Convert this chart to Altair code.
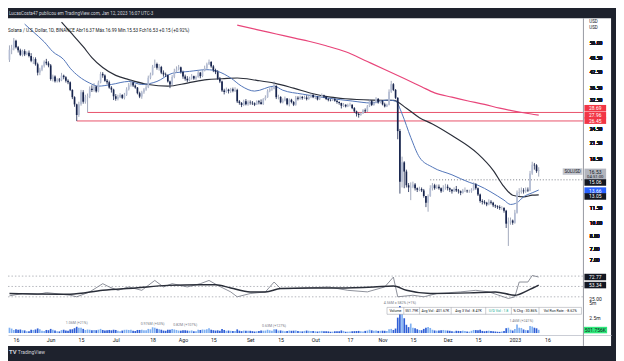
import altair as alt
import pandas as pd

FONT = "Roboto"
HEADER = "LucasCosta47 publicou em TradingView.com, Jan 12, 2023 16:07 UTC-3"
LEGEND = "Solana / U.S. Dollar, 1D, BINANCE  Abr16.37  Máx.16.99  Mín.15.53  Fch16.53  +0.15 (+0.92%)"

# ---------------- daily candles (day index: 0 = 2023-01-01) ----------------
START_DAY = -233          # 2022-05-13
FIRST_OPEN = 47.5
close_may = [52.3, 53.0, 57.0, 53.6, 52.0, 49.8, 51.6, 50.0, 50.8, 49.2, 47.0, 47.8, 45.5, 42.0, 43.2, 44.8, 46.6, 45.9, 45.0]
high_may = [54.5, 54.8, 58.5, 57.5, 54.2, 52.8, 52.3, 52.5, 51.5, 51.9, 50.6, 48.8, 48.6, 46.2, 44.0, 45.2, 47.2, 47.9, 46.8]
low_may = [46.5, 50.1, 52.0, 52.9, 50.9, 49.2, 49.0, 49.2, 49.6, 48.6, 46.4, 45.6, 44.9, 40.9, 41.0, 42.6, 44.1, 45.1, 44.2]
close_jun = [39.5, 40.5, 38.7, 39.3, 39.0, 40.8, 40.2, 38.9, 38.3, 35.6, 33.2, 31.0, 28.0, 31.0, 34.8, 31.8, 33.2, 33.5, 36.0, 35.6, 36.8, 35.1, 38.2, 41.5, 40.9, 38.9, 38.3, 36.4, 35.7, 33.5]
high_jun = [45.6, 41.2, 40.9, 39.8, 39.9, 41.9, 41.2, 40.6, 39.4, 38.6, 35.8, 33.5, 31.2, 31.8, 35.6, 35.5, 34.0, 34.4, 36.8, 37.2, 38.0, 37.0, 38.9, 42.3, 42.2, 41.3, 39.5, 38.9, 36.9, 36.0]
low_jun = [38.9, 38.6, 38.2, 38.2, 38.3, 38.7, 39.4, 38.2, 37.6, 35.2, 32.6, 30.3, 26.45, 27.5, 30.6, 31.2, 31.2, 28.69, 32.9, 34.9, 35.0, 34.7, 34.8, 37.9, 40.0, 38.5, 37.6, 36.0, 34.7, 32.3]
close_jul = [32.7, 33.3, 33.9, 33.0, 34.0, 35.8, 37.2, 38.2, 37.1, 36.4, 34.5, 33.4, 34.8, 35.7, 36.5, 40.0, 41.2, 44.5, 45.6, 44.0, 44.3, 42.0, 41.3, 41.0, 38.6, 37.5, 40.3, 42.4, 43.3, 44.2, 42.3]
high_jul = [34.2, 34.0, 34.5, 34.2, 34.6, 36.5, 38.0, 39.2, 38.5, 37.5, 36.6, 35.0, 35.3, 36.2, 37.3, 40.8, 42.0, 45.2, 47.6, 46.2, 45.6, 44.8, 42.9, 42.0, 41.3, 38.9, 41.0, 43.6, 44.6, 45.2, 44.5]
low_jul = [32.1, 32.2, 32.9, 32.6, 32.5, 33.6, 35.4, 36.7, 36.6, 36.0, 34.1, 32.9, 32.7, 34.3, 35.3, 36.2, 39.4, 40.9, 43.9, 43.2, 42.8, 41.4, 40.4, 40.3, 38.2, 36.2, 37.1, 39.8, 41.9, 42.9, 41.6]
close_aug = [40.5, 39.6, 39.0, 39.8, 40.6, 39.7, 40.3, 42.0, 40.6, 42.8, 43.8, 45.5, 46.5, 44.6, 43.0, 42.2, 39.6, 38.6, 35.4, 34.9, 35.7, 35.2, 35.8, 35.3, 35.6, 31.9, 31.4, 30.8, 31.9, 31.0, 31.6]
high_aug = [42.8, 41.2, 40.6, 40.4, 41.4, 40.8, 40.8, 43.0, 42.3, 43.2, 44.9, 46.2, 47.6, 46.9, 45.2, 43.6, 43.0, 40.3, 38.9, 36.0, 36.4, 36.0, 36.3, 36.4, 36.5, 36.0, 32.3, 31.7, 32.4, 32.6, 32.2]
low_aug = [39.6, 38.9, 38.3, 38.6, 39.3, 39.2, 39.2, 40.0, 39.8, 40.2, 42.5, 43.5, 45.2, 44.0, 42.2, 41.4, 39.2, 38.0, 34.9, 34.1, 34.6, 34.4, 34.6, 34.8, 34.9, 31.4, 30.9, 30.2, 30.5, 30.7, 30.6]
close_sep = [31.5, 31.3, 30.9, 31.9, 31.6, 31.1, 32.6, 33.2, 35.2, 35.8, 36.0, 37.0, 33.2, 33.3, 31.6, 32.2, 32.8, 31.0, 32.4, 31.7, 30.9, 33.0, 32.7, 33.3, 32.9, 33.1, 32.6, 33.3, 33.9, 33.2]
high_sep = [32.2, 32.0, 31.6, 32.2, 32.3, 32.5, 32.9, 33.8, 35.8, 36.4, 36.6, 38.6, 37.2, 34.0, 33.5, 32.8, 33.4, 32.9, 32.8, 32.7, 32.0, 33.6, 33.5, 33.7, 33.6, 33.7, 33.8, 33.9, 34.5, 34.2]
low_sep = [30.9, 30.8, 30.5, 30.8, 31.0, 30.9, 30.8, 32.2, 33.0, 34.8, 35.3, 35.8, 32.6, 32.5, 31.3, 31.3, 31.9, 30.7, 30.4, 31.3, 30.5, 30.6, 32.2, 32.4, 32.4, 32.6, 32.2, 32.4, 32.9, 32.9]
close_oct = [33.3, 32.5, 33.2, 33.8, 33.4, 32.6, 32.3, 32.2, 32.6, 32.1, 31.7, 31.4, 30.6, 30.9, 30.4, 30.8, 30.9, 29.9, 29.0, 28.3, 28.0, 28.4, 29.3, 29.0, 30.4, 32.0, 30.8, 31.5, 32.7, 31.6, 32.0]
high_oct = [33.7, 33.5, 33.5, 34.4, 34.0, 33.6, 32.9, 32.6, 32.9, 32.9, 32.3, 31.9, 31.5, 31.4, 31.0, 31.2, 31.5, 31.0, 30.2, 29.2, 28.7, 28.8, 29.6, 29.8, 30.8, 32.6, 32.3, 31.9, 33.2, 32.9, 32.3]
low_oct = [32.6, 32.2, 32.3, 33.0, 32.9, 32.3, 31.9, 31.9, 32.0, 31.8, 31.2, 30.9, 29.8, 30.2, 30.1, 30.2, 30.4, 29.6, 28.6, 27.6, 27.3, 27.8, 28.3, 28.6, 28.8, 30.2, 30.5, 30.6, 31.3, 31.2, 31.3]
close_nov = [31.0, 30.4, 30.9, 35.0, 37.6, 35.6, 33.0, 24.0, 14.8, 17.8, 16.3, 14.3, 14.0, 14.1, 14.4, 13.9, 13.7, 13.8, 13.6, 12.9, 12.1, 12.9, 13.9, 14.3, 13.9, 14.1, 13.9, 13.5, 14.0, 14.1]
high_nov = [32.3, 31.5, 31.2, 35.8, 38.8, 38.0, 35.9, 33.2, 24.5, 18.8, 18.0, 16.6, 14.6, 14.7, 14.8, 14.6, 14.0, 14.1, 14.0, 13.8, 12.9, 13.1, 14.3, 14.6, 14.5, 14.4, 14.4, 14.0, 14.3, 14.5]
low_nov = [30.7, 30.1, 30.2, 30.7, 34.6, 35.2, 32.6, 22.2, 13.2, 14.0, 13.9, 14.0, 13.4, 12.4, 13.9, 13.6, 13.4, 13.5, 13.4, 12.7, 11.6, 11.1, 12.8, 13.6, 13.7, 13.8, 13.7, 13.3, 13.4, 13.7]
close_dec = [13.9, 13.7, 13.5, 13.8, 13.6, 13.5, 13.3, 13.6, 13.6, 13.5, 13.5, 13.7, 14.4, 13.9, 13.1, 12.3, 12.2, 12.1, 11.9, 12.2, 12.1, 11.8, 11.7, 11.6, 11.5, 11.5, 11.2, 9.9, 10.1, 10.2, 10.0]
high_dec = [14.4, 14.0, 13.8, 14.0, 14.2, 13.8, 13.6, 13.8, 14.0, 13.7, 13.7, 13.9, 14.7, 14.6, 14.0, 13.2, 12.5, 12.4, 12.2, 12.5, 12.4, 12.2, 11.9, 11.8, 11.8, 11.7, 11.6, 11.3, 10.5, 10.5, 10.3]
low_dec = [13.6, 13.4, 13.2, 13.4, 13.4, 13.2, 13.0, 13.2, 13.4, 13.3, 13.3, 13.3, 13.6, 13.7, 12.9, 12.1, 11.9, 11.9, 11.7, 11.8, 11.9, 11.6, 11.5, 11.4, 11.3, 11.3, 11.0, 9.5, 8.0, 9.8, 9.8]
close_jan = [11.0, 13.3, 13.4, 13.6, 13.5, 13.7, 13.6, 16.0, 17.4, 17.3, 16.37, 16.53]
high_jan = [11.3, 13.6, 13.9, 14.0, 13.9, 14.0, 14.0, 16.4, 17.9, 17.7, 17.5, 16.99]
low_jan = [9.9, 10.9, 12.9, 13.2, 13.2, 13.3, 13.4, 13.5, 15.8, 16.6, 16.1, 15.53]

# volume in thousands
vol_may = [900, 750, 520, 640, 560, 600, 480, 450, 300, 320, 560, 520, 600, 780, 640, 380, 340, 520, 480]
vol_jun = [700, 560, 430, 300, 280, 500, 560, 450, 380, 620, 640, 820, 1060, 880, 900, 700, 520, 600, 560, 470, 520, 480, 560, 700, 520, 440, 480, 520, 460, 560]
vol_jul = [520, 380, 300, 420, 540, 560, 520, 560, 380, 340, 520, 520, 560, 480, 460, 700, 640, 976, 900, 720, 620, 560, 420, 380, 560, 560, 680, 600, 520, 420, 400]
vol_aug = [480, 460, 420, 380, 440, 300, 320, 560, 520, 600, 560, 620, 820, 560, 480, 420, 460, 400, 700, 520, 380, 420, 380, 360, 340, 620, 400, 320, 420, 400, 380]
vol_sep = [380, 320, 260, 300, 340, 440, 400, 420, 560, 460, 380, 630, 620, 420, 440, 380, 300, 360, 420, 380, 400, 440, 360, 300, 280, 360, 420, 380, 340, 360]
vol_oct = [300, 260, 320, 360, 320, 300, 280, 220, 240, 300, 320, 300, 440, 360, 220, 240, 280, 300, 320, 340, 360, 300, 260, 360, 420, 560, 460, 400, 440, 360, 380]
vol_nov = [400, 380, 360, 620, 700, 520, 760, 2600, 4560, 3800, 2500, 1400, 1000, 1600, 900, 800, 640, 520, 480, 700, 900, 1000, 860, 560, 440, 400, 420, 480, 520, 460]
vol_dec = [420, 380, 300, 280, 380, 360, 340, 400, 340, 260, 240, 380, 520, 500, 480, 560, 360, 300, 360, 400, 340, 300, 260, 220, 200, 260, 340, 820, 900, 560, 420]
vol_jan = [700, 1460, 900, 860, 600, 500, 480, 1200, 1100, 900, 800, 552]

# volume spike annotations
vnote_d = [-202, -167, -152, -111, -53, 3]
vnote_v = [1.06e6, 0.976e6, 0.82e6, 0.63e6, 4.56e6, 1.46e6]
vnote_t = ['1.06M (+21%)', '0.976M (+53%)', '0.82M (+107%)', '0.63M (+127%)', '4.56M = 582% (+1%)', '1.46M (+241%)']

# volume info table
info_text = ['Volume', '551.79K', 'Avg Vol : 401.67K', 'Avg 3 Vol : 8.47K', 'U/D Vol : 1.8', '% Chg : 30.86%', 'Vol Run Rate : -8.62%']
info_color = ['#131722', '#131722', '#131722', '#131722', '#22ab94', '#131722', '#131722']

# moving averages (sparse vertices)
ma200_d = [-128, -119, -110, -101, -95, -87, -78, -68, -60, -51, -43, -37, -29, -22, -14, -7, 4, 11]
ma200_v = [66.2, 63.4, 60.8, 58.3, 56.7, 54.3, 51.3, 46.7, 43.3, 39.7, 36.7, 34.6, 33.2, 32.1, 31.0, 29.9, 28.6, 27.96]
ma50_d = [-209, -205, -199, -195, -190, -184, -178, -169, -160, -151, -142, -135, -128, -119, -111, -102, -93, -85, -78, -66, -56, -50, -44, -38, -29, -17, -10, -5, -1, 4, 8, 11]
ma50_v = [68.1, 62.0, 53.8, 48.5, 44.1, 40.9, 39.3, 37.5, 36.9, 38.0, 39.3, 39.6, 39.9, 39.0, 38.0, 36.2, 34.3, 33.2, 32.7, 32.3, 32.2, 29.9, 27.3, 25.7, 23.0, 19.3, 16.5, 14.1, 13.0, 12.8, 13.0, 13.05]
ema_d = [-226, -222, -217, -213, -208, -205, -201, -196, -192, -186, -178, -172, -165, -158, -150, -142, -137, -131, -126, -120, -111, -107, -98, -86, -75, -66, -59, -55, -52, -48, -44, -38, -29, -21, -17, -11, -5, -2, 1, 4, 8, 11]
ema_v = [66.8, 62.0, 56.4, 51.3, 47.6, 43.8, 40.5, 38.0, 36.9, 37.5, 38.6, 37.5, 38.6, 41.7, 42.5, 43.2, 42.5, 39.9, 36.9, 35.2, 36.9, 35.5, 34.2, 32.9, 32.0, 31.4, 32.3, 32.0, 28.3, 22.6, 18.7, 17.0, 15.8, 14.7, 14.3, 13.4, 12.4, 11.9, 12.1, 12.8, 13.3, 13.66]

# oscillator pane
osc_fast_d = [-233, -227, -220, -216, -205, -202, -196, -190, -187, -183, -178, -172, -166, -162, -158, -151, -145, -141, -137, -131, -128, -122, -115, -111, -108, -104, -95, -86, -77, -68, -60, -56, -54, -47, -42, -36, -25, -18, -12, -3, 0, 2, 6, 8, 11]
osc_fast_v = [27.4, 32.9, 30.5, 35.2, 28.8, 25.0, 36.9, 56.7, 48.8, 40.7, 48.8, 40.7, 64.5, 48.8, 56.7, 48.8, 56.7, 64.5, 52.6, 36.9, 25.0, 32.9, 36.9, 60.7, 44.8, 44.8, 46.4, 48.8, 40.7, 36.9, 48.8, 72.6, 25.0, 28.8, 25.0, 32.9, 36.9, 40.7, 36.9, 21.0, 25.0, 60.7, 60.7, 76.4, 72.77]
osc_slow_d = [-233, -205, -190, -175, -160, -145, -138, -131, -122, -115, -108, -95, -81, -65, -56, -50, -39, -21, -9, 0, 6, 11]
osc_slow_v = [32.9, 31.2, 40.7, 46.4, 52.6, 54.3, 54.3, 46.4, 36.9, 36.9, 44.8, 46.4, 46.4, 48.8, 51.2, 40.7, 32.9, 34.5, 36.9, 28.8, 40.7, 53.34]
osc_levels = [25, 50, 75]

# horizontal levels
level_vals = [28.69, 26.45]
level_start = [-197, -202]
dotted_level = [15.06]
dotted_start = [-39]

# axes
x_tick_days = [-230, -214, -200, -184, -167, -153, -139, -122, -108, -92, -76, -61, -47, -31, -17, 0, 15]
x_tick_text = ['16', 'Jun', '15', 'Jul', '18', 'Ago', '15', 'Set', '15', 'Out', '17', 'Nov', '15', 'Dez', '15', '2023', '16']
price_ticks = [56, 48.5, 42.5, 36.5, 32.5, 24.5, 21.5, 18.5, 11.5, 10, 8.8, 7.8, 7.0]

# price tags
ptag_vals = [28.69, 27.96, 26.45, 15.06, 13.66, 13.05]
ptag_text = ['28.69', '27.96', '26.45', '15.06', '13.66', '13.05']
otag_vals = [72.77, 53.34]
otag_text = ['72.77', '53.34']
vtag_vals = [501756]
vtag_text = ['501.756K']
osc_label_vals = [25]
osc_label_text = ['25.00']
vol_label_vals = [5e6, 2.5e6]
vol_label_text = ['5m', '2.5m']

# ---------------- build tables ----------------
closes = close_may + close_jun + close_jul + close_aug + close_sep + close_oct + close_nov + close_dec + close_jan
highs = high_may + high_jun + high_jul + high_aug + high_sep + high_oct + high_nov + high_dec + high_jan
lows = low_may + low_jun + low_jul + low_aug + low_sep + low_oct + low_nov + low_dec + low_jan
vols = vol_may + vol_jun + vol_jul + vol_aug + vol_sep + vol_oct + vol_nov + vol_dec + vol_jan
n = len(closes)
df = pd.DataFrame({
    'd': list(range(START_DAY, START_DAY + n)),
    'o': [FIRST_OPEN] + closes[:-1],
    'c': closes, 'h': highs, 'l': lows,
    'v': [x * 1000 for x in vols],
})
df['h'] = df[['h', 'o', 'c']].max(axis=1)
df['l'] = df[['l', 'o', 'c']].min(axis=1)
df['lo'] = df[['o', 'c']].min(axis=1)
df['hi'] = df[['o', 'c']].max(axis=1)
df['dir'] = ['up' if c >= o else 'down' for o, c in zip(df.o, df.c)]

W, H = 611, 332
AXIS_X = 583  # separator between plot and price scale
TEXT = '#131722'

expr = "[" + ",".join(f"'{t}'" for t in x_tick_text) + "][indexof([" + ",".join(str(v) for v in x_tick_days) + "], datum.value)]"
xs = alt.Scale(domain=[-231.4, 42.08], nice=False, zero=False)
xaxis = alt.Axis(values=x_tick_days, labelExpr=expr, orient='bottom', offset=-11, domain=True,
                 domainColor='#c9ccd4', domainWidth=1, ticks=False, grid=False, labelFontSize=5.3,
                 labelColor=TEXT, labelPadding=3, title=None, labelFont=FONT, labelOverlap=False, labelFlush=False)
X = alt.X('d:Q', scale=xs, axis=xaxis)

ps = alt.Scale(type='log', domain=[6.546, 70.7], range=[252, 0], nice=False)
os_ = alt.Scale(domain=[0, 100], range=[292.8, 250.8], nice=False, zero=False)
vs = alt.Scale(domain=[0, 5e6], range=[319, 289], nice=False)

pyaxis = alt.Axis(orient='right', offset=-(W - AXIS_X), values=price_ticks, format='.2f', domain=False, ticks=False,
                  grid=False, labelFontSize=5, labelColor=TEXT, labelPadding=6, title=None, labelFont=FONT,
                  labelOverlap=False, labelFlush=False)


def tag_layers(vals, texts, scale, bg, fg, offsets, xc=595, w=22, h=6.6, fs=5):
    out = []
    half = round(h / w, 4)
    path = f"M-1,{-half}L1,{-half}L1,{half}L-1,{half}Z"
    for v, t, off in zip(vals, texts, offsets):
        d = pd.DataFrame({'v': [v], 't': [t]})
        out.append(alt.Chart(d).mark_point(shape=path, size=w * w, filled=True, opacity=1, color=bg, strokeWidth=0,
                                           yOffset=off).encode(x=alt.value(xc), y=alt.Y('v:Q', scale=scale, axis=None)))
        out.append(alt.Chart(d).mark_text(fontSize=fs, color=fg, yOffset=off, font=FONT, baseline='middle').encode(
            x=alt.value(xc), y=alt.Y('v:Q', scale=scale, axis=None), text='t:N'))
    return out


base = alt.Chart(df)

# ---------------- volume group ----------------
vol_up = base.transform_filter("datum.dir == 'up'").mark_bar(size=1.7, color='#7fb0f2').encode(
    x=X, y=alt.Y('v:Q', scale=vs, axis=None), y2=alt.datum(0))
vol_dn = base.transform_filter("datum.dir == 'down'").mark_bar(size=1.7, color='#2f5fd6').encode(
    x=X, y=alt.Y('v:Q', scale=vs, axis=None), y2=alt.datum(0))
vlab = alt.Chart(pd.DataFrame({'v': vol_label_vals, 't': vol_label_text})).mark_text(
    fontSize=5, color=TEXT, align='left', font=FONT, baseline='middle').encode(
    x=alt.value(AXIS_X + 6), y=alt.Y('v:Q', scale=vs, axis=None), text='t:N')
vnotes = alt.Chart(pd.DataFrame({'d': vnote_d, 'v': vnote_v, 't': vnote_t})).mark_text(
    fontSize=3.6, color='#787b86', font=FONT, baseline='bottom', dy=-1.5).encode(
    x=X, y=alt.Y('v:Q', scale=vs, axis=None), text='t:N')

# info table (overlay legend of the volume indicator)
INFO_X0, INFO_X1, INFO_Y0, INFO_Y1 = 384, 581, 293, 300
info_edges = [384, 401, 417, 449, 484, 510, 538, 581]
info_box = alt.Chart(pd.DataFrame({'a': [0]})).mark_rect(fill='white', stroke='#9598a1', strokeWidth=0.5).encode(
    x=alt.value(INFO_X0), x2=alt.value(INFO_X1), y=alt.value(INFO_Y0), y2=alt.value(INFO_Y1))
info_layers = [info_box]
for i, (t, col) in enumerate(zip(info_text, info_color)):
    cx = (info_edges[i] + info_edges[i + 1]) / 2
    info_layers.append(alt.Chart(pd.DataFrame({'t': [t]})).mark_text(
        fontSize=3.6, color=col, font=FONT, baseline='middle').encode(
        x=alt.value(cx), y=alt.value((INFO_Y0 + INFO_Y1) / 2), text='t:N'))
    if 0 < i:
        info_layers.append(alt.Chart(pd.DataFrame({'a': [0]})).mark_rule(color='#9598a1', strokeWidth=0.5).encode(
            x=alt.value(info_edges[i]), y=alt.value(INFO_Y0), y2=alt.value(INFO_Y1)))

vol_group = alt.layer(vol_up, vol_dn, vlab, vnotes, *info_layers,
                      *tag_layers(vtag_vals, vtag_text, vs, '#2ee87a', TEXT, [0], w=24))

# ---------------- oscillator group ----------------
lv = alt.Chart(pd.DataFrame({'v': osc_levels})).mark_rule(strokeDash=[1.5, 2], color='#9598a1', strokeWidth=0.7).encode(
    x=alt.value(0), x2=alt.value(AXIS_X), y=alt.Y('v:Q', scale=os_, axis=None))
fast = alt.Chart(pd.DataFrame({'d': osc_fast_d, 'v': osc_fast_v})).mark_line(color='#707480', strokeWidth=0.8).encode(
    x=X, y=alt.Y('v:Q', scale=os_, axis=None))
slow = alt.Chart(pd.DataFrame({'d': osc_slow_d, 'v': osc_slow_v})).mark_line(color='#2a2e39', strokeWidth=1.5,
                                                                           interpolate='monotone').encode(
    x=X, y=alt.Y('v:Q', scale=os_, axis=None))
olab = alt.Chart(pd.DataFrame({'v': osc_label_vals, 't': osc_label_text})).mark_text(
    fontSize=5, color=TEXT, align='left', font=FONT, baseline='middle', yOffset=2).encode(
    x=alt.value(AXIS_X + 6), y=alt.Y('v:Q', scale=os_, axis=None), text='t:N')
osc_group = alt.layer(lv, fast, slow, olab, *tag_layers(otag_vals, otag_text, os_, TEXT, 'white', [0, 0]))

# ---------------- price group ----------------
wick_up = base.transform_filter("datum.dir == 'up'").mark_rule(color='#8a93ab', strokeWidth=0.8).encode(
    x=X, y=alt.Y('l:Q', scale=ps, axis=pyaxis), y2='h:Q')
wick_dn = base.transform_filter("datum.dir == 'down'").mark_rule(color='#17244d', strokeWidth=0.8).encode(
    x=X, y=alt.Y('l:Q', scale=ps, axis=pyaxis), y2='h:Q')
body_up = base.transform_filter("datum.dir == 'up'").mark_bar(size=1.7, color='#b4bdd4', orient='vertical').encode(
    x=X, y=alt.Y('lo:Q', scale=ps, axis=pyaxis), y2='hi:Q')
body_dn = base.transform_filter("datum.dir == 'down'").mark_bar(size=1.7, color='#17244d', orient='vertical').encode(
    x=X, y=alt.Y('lo:Q', scale=ps, axis=pyaxis), y2='hi:Q')

levels = alt.Chart(pd.DataFrame({'d': level_start, 'v': level_vals})).mark_rule(color='#e8506a', strokeWidth=1).encode(
    x=X, x2=alt.value(AXIS_X), y=alt.Y('v:Q', scale=ps, axis=pyaxis))
dotted = alt.Chart(pd.DataFrame({'d': dotted_start, 'v': dotted_level})).mark_rule(
    color='#555a66', strokeWidth=0.8, strokeDash=[1, 2]).encode(
    x=X, x2=alt.value(AXIS_X), y=alt.Y('v:Q', scale=ps, axis=pyaxis))


def ma(dd, vv, color, width):
    return alt.Chart(pd.DataFrame({'d': dd, 'v': vv})).mark_line(color=color, strokeWidth=width,
                                                                  interpolate='monotone').encode(
        x=X, y=alt.Y('v:Q', scale=ps, axis=pyaxis))


sep = alt.Chart(pd.DataFrame({'a': [0]})).mark_rule(color='#9598a1', strokeWidth=1).encode(
    x=alt.value(AXIS_X), y=alt.value(0), y2=alt.value(H))
usd = alt.Chart(pd.DataFrame({'t': ['USD', 'USD'], 'yy': [0, 1]})).mark_text(
    fontSize=4.5, color=TEXT, align='left', font=FONT, baseline='middle').encode(
    x=alt.value(AXIS_X + 6), y=alt.Y('yy:O', scale=alt.Scale(range=[1.5, 12.5]), axis=None), text='t:N')

last = alt.Chart(pd.DataFrame({'v': [16.53], 't': ['16.53'], 'u': ['04:51:00'], 's': ['SOLUSD']}))
tag_path = "M-1,-0.545L1,-0.545L1,0.545L-1,0.545Z"
last_box = last.mark_point(shape=tag_path, size=484, filled=True, opacity=1, color='#b2b5be', strokeWidth=0,
                           yOffset=4.5).encode(x=alt.value(595), y=alt.Y('v:Q', scale=ps, axis=pyaxis))
last_txt = last.mark_text(fontSize=5, color=TEXT, font=FONT, baseline='middle', yOffset=1.5).encode(
    x=alt.value(595), y=alt.Y('v:Q', scale=ps, axis=pyaxis), text='t:N')
last_time = last.mark_text(fontSize=4.3, color=TEXT, font=FONT, baseline='middle', yOffset=7.5).encode(
    x=alt.value(595), y=alt.Y('v:Q', scale=ps, axis=pyaxis), text='u:N')
sym_box = last.mark_point(shape="M-1,-0.33L1,-0.33L1,0.33L-1,0.33Z", size=400, filled=True, opacity=1,
                          color='#c3c6ce', strokeWidth=0, yOffset=1.5).encode(
    x=alt.value(AXIS_X - 11), y=alt.Y('v:Q', scale=ps, axis=pyaxis))
sym_txt = last.mark_text(fontSize=4.5, color=TEXT, font=FONT, baseline='middle', yOffset=1.5).encode(
    x=alt.value(AXIS_X - 11), y=alt.Y('v:Q', scale=ps, axis=pyaxis), text='s:N')

legend_txt = alt.Chart(pd.DataFrame({'t': [LEGEND]})).mark_text(
    fontSize=4.6, color=TEXT, align='left', font=FONT, baseline='middle').encode(
    x=alt.value(0), y=alt.value(13), text='t:N')
header = alt.Chart(pd.DataFrame({'t': [HEADER]})).mark_text(
    fontSize=4.6, color='#d1d4dc', align='left', font=FONT, baseline='middle').encode(
    x=alt.value(1), y=alt.value(-4.5), text='t:N')
footer = alt.Chart(pd.DataFrame({'t': ['TradingView'], 'k': ['TV']}))
footer_logo = footer.mark_text(fontSize=6, color='#d1d4dc', align='left', font=FONT, fontWeight='bold',
                               baseline='middle').encode(x=alt.value(1), y=alt.value(H + 6), text='k:N')
footer_txt = footer.mark_text(fontSize=5, color='#d1d4dc', align='left', font=FONT, baseline='middle').encode(
    x=alt.value(10), y=alt.value(H + 6), text='t:N')

ptag_colors = ['#f23645', '#f23645', '#f23645', TEXT, '#2962ff', TEXT]
ptag_offsets = [-4.3, 0, -0.3, 2.7, 0.6, 1.7]
ptags = []
for v, t, col, off in zip(ptag_vals, ptag_text, ptag_colors, ptag_offsets):
    ptags += tag_layers([v], [t], ps, col, 'white', [off])

price_group = alt.layer(
    levels, dotted,
    ma(ma200_d, ma200_v, '#e8457a', 1.2),
    ma(ma50_d, ma50_v, '#2a2e39', 1.2),
    ma(ema_d, ema_v, '#5074b8', 1.0),
    wick_up, wick_dn, body_up, body_dn,
    sep, usd, legend_txt, header, footer_logo, footer_txt,
    sym_box, sym_txt, last_box, last_txt, last_time,
    *ptags,
)

chart = alt.layer(vol_group, osc_group, price_group).resolve_scale(y='independent').properties(
    width=W, height=H,
    autosize=alt.AutoSizeParams(type='none'),
    padding={'left': 0, 'top': 8, 'right': 5, 'bottom': 13},
    background='#1e222d',
).configure_view(fill='white', stroke=None).configure_text(font=FONT)

chart.save("out.html", embed_options={"renderer": "svg", "actions": False})
